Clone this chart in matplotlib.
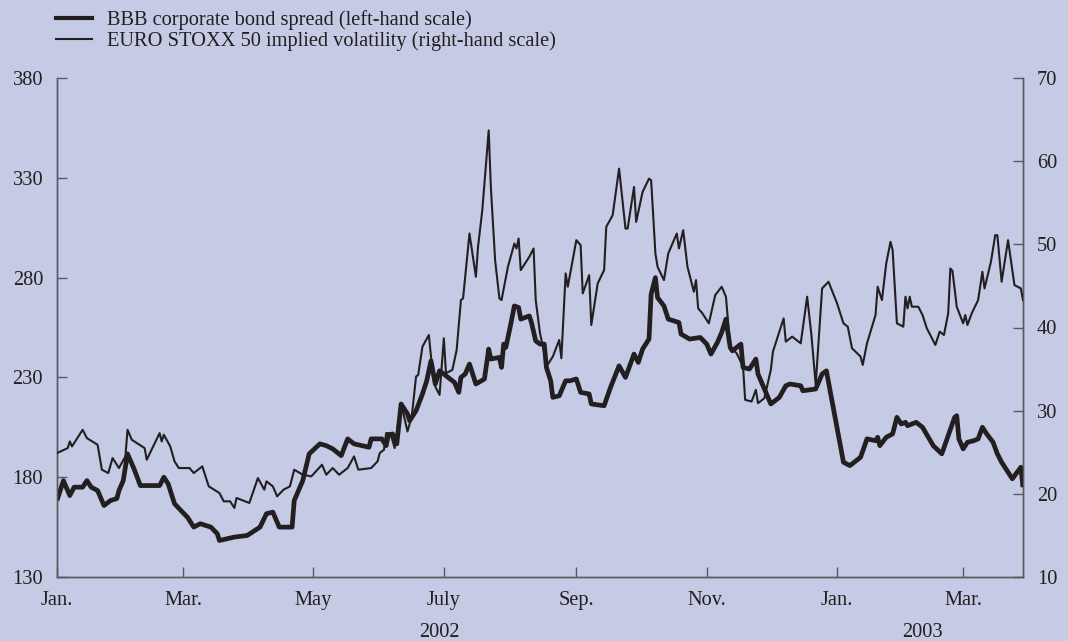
import numpy as np
import matplotlib
matplotlib.use("Agg")
import matplotlib.pyplot as plt
from matplotlib.lines import Line2D

# ---------------- data ----------------
start_date = np.datetime64("2002-01-01")
end_day = 452  # last day shown (days since 1 Jan 2002)

# BBB corporate bond spread (basis points, left-hand scale)
bbb_days = [0, 1, 3, 5, 6, 8, 12, 14, 16, 19,
            22, 25, 28, 29, 31, 33, 36, 39, 42, 48,
            50, 52, 55, 58, 61, 64, 67, 72, 75, 76,
            83, 89, 95, 98, 101, 104, 110, 111, 115, 118,
            123, 126, 129, 133, 136, 139, 146, 147, 152, 154,
            155, 157, 159, 161, 164, 165, 168, 171, 173, 175,
            177, 179, 182, 186, 188, 189, 191, 193, 196, 200,
            202, 203, 207, 208, 209, 210, 212, 214, 216, 217,
            221, 222, 224, 226, 228, 229, 231, 232, 235, 238,
            240, 243, 245, 249, 250, 256, 259, 263, 266, 270,
            272, 274, 277, 278, 280, 281, 284, 286, 291, 292,
            296, 301, 304, 306, 309, 311, 313, 315, 316, 320,
            321, 324, 327, 328, 334, 335, 338, 341, 343, 348,
            349, 355, 358, 360, 368, 371, 376, 379, 383, 384,
            385, 388, 391, 393, 395, 397, 398, 402, 405, 410,
            414, 417, 420, 421, 422, 424, 426, 429, 431, 433,
            435, 438, 440, 442, 447, 451, 452]
bbb_values = [168.3, 171.7, 178.3, 173.3, 170.8, 175, 175, 178.3, 175, 173.3,
              165.8, 168.3, 169.3, 173.3, 178.3, 191.7, 184.3, 175.8, 175.8, 175.8,
              180, 176.7, 166.7, 163.3, 160, 155, 156.7, 155, 151.7, 148.3,
              150, 150.8, 155, 161.7, 162.5, 155, 155, 168.3, 178.3, 191.7,
              196.7, 195.8, 194.2, 190.8, 199.2, 196.7, 195, 199.2, 199.2, 195.8,
              200.8, 201.7, 196.7, 216.7, 211.7, 208.3, 213.3, 221.7, 228.3, 238.3,
              226.7, 233.3, 230.8, 227.5, 222.5, 230, 231.7, 236.7, 226.7, 229.2,
              244.2, 239.2, 240, 235, 246.7, 245, 255, 265.8, 265, 259.2,
              260.8, 257.5, 248.3, 246.7, 246.7, 235, 228.3, 220, 220.8, 228.3,
              228.3, 229.2, 222.5, 221.7, 216.7, 215.8, 225, 235.8, 230, 241.7,
              237.5, 244.2, 249.2, 271.7, 280, 270, 265.8, 259.2, 257.5, 251.7,
              249.2, 250, 246.7, 241.7, 247.5, 252.5, 259.2, 245, 243.3, 246.7,
              235, 234.2, 239.2, 231.7, 216.7, 217.5, 220, 225.8, 226.7, 225.8,
              223.3, 224.2, 231.7, 233.3, 187.5, 185.8, 190, 199.2, 198.3, 200,
              195.8, 200, 201.7, 210, 206.7, 207.5, 205.8, 207.5, 205, 195.8,
              191.7, 200.8, 210, 210.8, 199.2, 194.2, 197.5, 198.3, 199.2, 205,
              201.7, 197.5, 191.7, 187.5, 179.2, 185, 175]

# EURO STOXX 50 implied volatility (%, right-hand scale)
vol_days = [0, 5, 6, 7, 12, 14, 19, 21, 24, 26,
            29, 32, 33, 35, 41, 42, 48, 49, 50, 53,
            55, 57, 62, 64, 68, 71, 76, 78, 81, 83,
            84, 90, 94, 97, 98, 101, 103, 106, 109, 111,
            115, 119, 124, 126, 129, 132, 136, 139, 141, 147,
            150, 151, 153, 154, 156, 158, 159, 161, 164, 166,
            168, 169, 171, 174, 175, 177, 179, 181, 182, 185,
            187, 189, 190, 193, 196, 197, 199, 200, 202, 203,
            205, 207, 208, 211, 214, 215, 216, 217, 221, 223,
            224, 226, 228, 229, 232, 235, 236, 238, 239, 241,
            243, 245, 246, 249, 250, 253, 256, 257, 260, 263,
            266, 267, 270, 271, 274, 277, 278, 280, 281, 284,
            286, 290, 291, 293, 295, 298, 299, 300, 302, 305,
            308, 311, 313, 315, 318, 321, 322, 325, 327, 328,
            331, 334, 335, 340, 341, 344, 348, 351, 353, 355,
            358, 361, 365, 368, 370, 372, 376, 377, 379, 383,
            384, 386, 388, 390, 391, 393, 396, 397, 398, 399,
            400, 403, 405, 407, 411, 413, 415, 417, 418, 419,
            421, 424, 425, 426, 428, 431, 433, 434, 437, 439,
            440, 442, 445, 448, 451, 452]
vol_values = [24.9, 25.5, 26.3, 25.7, 27.7, 26.7, 25.9, 22.9, 22.5, 24.3,
              23.1, 24.5, 27.7, 26.5, 25.5, 24.1, 27.3, 26.3, 27.1, 25.7,
              23.9, 23.1, 23.1, 22.5, 23.3, 20.9, 20.1, 19.1, 19.1, 18.3,
              19.5, 18.9, 21.9, 20.5, 21.5, 20.9, 19.7, 20.5, 20.9, 22.9,
              22.3, 22.1, 23.5, 22.3, 23.1, 22.3, 23.1, 24.5, 22.9, 23.1,
              23.9, 24.9, 25.3, 27.3, 27.3, 25.5, 27.3, 30.9, 27.5, 29.3,
              34.1, 34.3, 37.7, 39.1, 36.5, 32.9, 31.9, 38.7, 34.5, 34.9,
              37.3, 43.3, 43.5, 51.3, 46.1, 49.7, 54.1, 57.3, 63.7, 56.9,
              48.1, 43.5, 43.3, 47.3, 50.1, 49.5, 50.7, 46.9, 48.5, 49.5,
              43.3, 39.3, 36.9, 35.3, 36.5, 38.5, 36.3, 46.5, 44.9, 47.7,
              50.5, 49.9, 44.1, 46.3, 40.3, 45.3, 46.9, 52.1, 53.5, 59.1,
              51.9, 51.9, 56.9, 52.7, 56.3, 57.9, 57.7, 48.9, 47.3, 45.7,
              48.9, 51.3, 49.5, 51.7, 47.3, 44.3, 45.7, 42.3, 41.7, 40.5,
              43.9, 44.9, 43.7, 37.7, 36.9, 35.3, 31.3, 31.1, 32.5, 30.9,
              31.5, 34.9, 37.1, 41.1, 38.3, 38.9, 38.1, 43.7, 39.1, 33.1,
              44.7, 45.5, 42.9, 40.5, 40.1, 37.5, 36.5, 35.5, 38.1, 41.5,
              44.9, 43.3, 47.7, 50.3, 49.3, 40.5, 40.1, 43.7, 42.3, 43.7,
              42.5, 42.5, 41.5, 39.9, 37.9, 39.5, 39.1, 41.7, 47.1, 46.8,
              42.5, 40.5, 41.5, 40.3, 41.7, 43.3, 46.7, 44.7, 47.9, 51.1,
              51.1, 45.5, 50.5, 45.1, 44.7, 43.3]

left_ticks = [130, 180, 230, 280, 330, 380]
right_ticks = [10, 20, 30, 40, 50, 60, 70]
month_ticks = ["2002-01-01", "2002-03-01", "2002-05-01", "2002-07-01",
               "2002-09-01", "2002-11-01", "2003-01-01", "2003-03-01"]
month_labels = ["Jan.", "Mar.", "May", "July", "Sep.", "Nov.", "Jan.", "Mar."]
year_labels = ["2002", "2003"]
year_label_dates = ["2002-06-29", "2003-02-10"]

bbb_label = "BBB corporate bond spread (left-hand scale)"
vol_label = "EURO STOXX 50 implied volatility (right-hand scale)"

# ---------------- style ----------------
BG = "#c5cae5"
INK = "#231f20"
SPINE = "#5a5a5e"
FS = 14.7
plt.rcParams["font.family"] = ["Liberation Serif", "DejaVu Serif"]
plt.rcParams["font.size"] = FS

fig = plt.figure(figsize=(10.68, 6.41), dpi=100, facecolor=BG)
ax = fig.add_axes([57 / 1068, 1 - 577 / 641, (1023 - 57) / 1068, (577 - 78) / 641])
ax.set_facecolor(BG)
ax2 = ax.twinx()

bbb_dates = start_date + np.array(bbb_days).astype("timedelta64[D]")
vol_dates = start_date + np.array(vol_days).astype("timedelta64[D]")

ax.plot(bbb_dates, bbb_values, color=INK, lw=3.4, solid_joinstyle="round",
        solid_capstyle="butt", zorder=3)
ax2.plot(vol_dates, vol_values, color=INK, lw=1.5, solid_joinstyle="round",
         zorder=3)

ax.set_xlim(start_date, start_date + np.timedelta64(end_day, "D"))
ax.set_ylim(130, 380)
ax2.set_ylim(10, 70)
ax.set_yticks(left_ticks)
ax2.set_yticks(right_ticks)
ax.set_xticks([np.datetime64(d) for d in month_ticks])
ax.set_xticklabels(month_labels)

for a in (ax, ax2):
    a.spines["top"].set_visible(False)
    for s in ("left", "right", "bottom"):
        a.spines[s].set_color(SPINE)
        a.spines[s].set_linewidth(1.0)
    a.tick_params(direction="in", length=7, width=1.0, color=SPINE,
                  labelcolor=INK, labelsize=FS)
ax.tick_params(axis="y", pad=10)
ax.tick_params(axis="x", pad=10)
ax2.tick_params(axis="y", pad=10)

for txt, d in zip(year_labels, year_label_dates):
    ax.text(np.datetime64(d), -0.111, txt, transform=ax.get_xaxis_transform(),
            ha="center", va="center", color=INK, fontsize=FS)

handles = [Line2D([], [], color=INK, lw=3.0), Line2D([], [], color=INK, lw=1.5)]
fig.legend(handles, [bbb_label, vol_label], loc="upper left",
           bbox_to_anchor=(48 / 1068, 1 - 2 / 641), frameon=False,
           handlelength=1.75, handletextpad=0.72, labelspacing=0.08,
           fontsize=FS, labelcolor=INK, borderaxespad=0)

fig.savefig("out.png", dpi=100, facecolor=BG)
